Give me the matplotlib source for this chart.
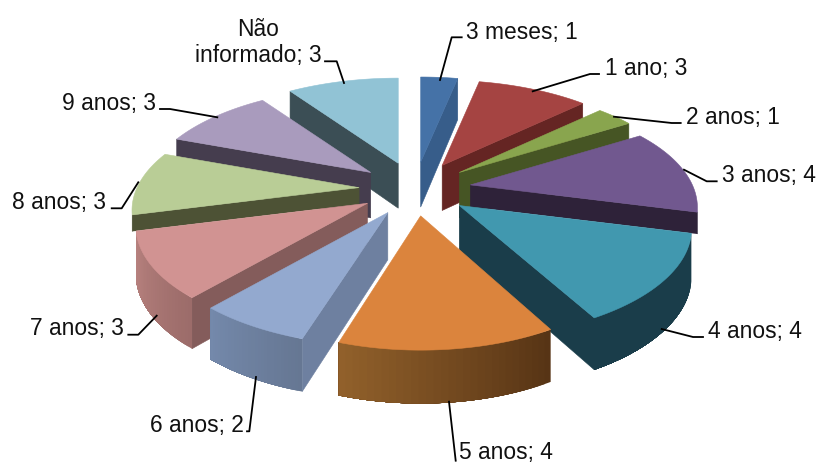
#!/usr/bin/env python3
# plot.py
# Exploded 3D pie of respondents per time band, built from polygons on a pixel-sized axes.

import numpy as np
import matplotlib
matplotlib.use("Agg")
import matplotlib.pyplot as plt
from matplotlib.colors import to_rgb
from matplotlib.patches import Polygon

categories = ["3 meses", "1 ano", "2 anos", "3 anos", "4 anos", "5 anos",
              "6 anos", "7 anos", "8 anos", "9 anos", "Não\ninformado"]
counts = [1, 3, 1, 4, 4, 4, 2, 3, 3, 3, 3]

top_colors = ["#4572a7", "#a54442", "#89a54e", "#71588f", "#4198af", "#db843d",
              "#93a9cf", "#d19392", "#b9cd96", "#a99bbd", "#91c3d5"]
side_colors = ["#375d8a", "#652523", "#465524", "#2e2239", "#1a3d4a", "#573415",
               "#6e80a0", "#845c5b", "#4d5235", "#453d4e", "#3b4e55"]
# outer wall shading, from the start of each slice to its end
rim_start = ["#375d8a", "#652523", "#465524", "#2e2239", "#1a3d4a", "#573415",
             "#667793", "#9c6c6a", "#4d5235", "#453d4e", "#3b4e55"]
rim_end = ["#375d8a", "#652523", "#465524", "#2e2239", "#1a3d4a", "#92612b",
           "#7489ab", "#b98380", "#4d5235", "#453d4e", "#3b4e55"]

# horizontal stretch of each slice
stretch_x = [1.0, 1.0, 1.0, 1.0, 1.023, 0.985, 1.03, 1.02, 1.0, 1.0, 1.0]

# label anchor (x, baseline y) and horizontal alignment
label_pos = [(466, 38.5, "left"), (605, 75, "left"), (686.5, 124, "left"),
             (721.5, 182, "left"), (707.5, 338, "left"), (459, 459.5, "left"),
             (150, 432, "left"), (30.5, 335.5, "left"), (12.5, 209, "left"),
             (62.5, 110, "left"), (258.5, 62, "center")]
leaders = [[(440, 81), (451.7, 38.3), (461.7, 38.3)],
           [(532.7, 92.3), (590, 75), (599, 75)],
           [(614, 117.7), (671.7, 124), (680.7, 124)],
           [(684, 170.7), (706.7, 182.3), (716.7, 182.3)],
           [(661.7, 330), (693, 338), (703, 338)],
           [(449, 402.7), (455.7, 461.7)],
           [(256, 378), (249.3, 432.3), (247, 432.3)],
           [(156.7, 316.7), (138.3, 335.7), (128.3, 335.7)],
           [(138.3, 183.3), (121.7, 209.3), (111.7, 209.3)],
           [(217.3, 118.3), (170, 110), (160, 110)],
           [(344, 84), (336.7, 62.3), (325, 62.3)]]

# walls of these slices stop at the top face of the slice in front of them:
# slice index -> (front slice index, which edge of the front slice)
wall_stops = {3: (4, 0), 8: (7, -1)}

center = np.array([415.0, 190.0])
explode = np.array([56.0, 27.0])
radius_x, radius_y = 222.0, 103.0
perspective = 0.21
front_growth = 0.03

edges = np.cumsum([0] + counts) / sum(counts) * 2 * np.pi
mids = (edges[:-1] + edges[1:]) / 2


def slice_outline(i):
    # apex and outer arc of a slice's top face; slices pulled towards the
    # viewer come out a little bigger, the back of the pie is smaller
    apex = center + explode * np.array([np.sin(mids[i]), -np.cos(mids[i])])
    grow = 1.0 + front_growth * max(0.0, -np.cos(mids[i]))
    arc = []
    for a in np.linspace(edges[i], edges[i + 1], 61):
        scale = 1.0 / (1.0 + perspective * np.cos(a))
        arc.append(apex + np.array([radius_x * np.sin(a) * scale * stretch_x[i],
                                    -radius_y * np.cos(a) * scale * grow]))
    return apex, arc


def drop(point):
    # wall height grows slightly towards the front
    return point + np.array([0.0, 45.0 + 0.045 * (point[1] - 165.0)])


def cross(a, b):
    return a[0] * b[1] - a[1] * b[0]


def faces_front(p, q, inside):
    # a wall shows when the slice lies on the upper side of its top edge
    edge = q - p
    return cross(edge, np.array([0.0, 1.0])) * cross(edge, inside - p) < 0


def fill(ax, points, color, width=0.4, clip=None):
    pts = np.array(points)
    patches = ax.fill(pts[:, 0], pts[:, 1], facecolor=color, edgecolor=color,
                      linewidth=width)
    if clip is not None:
        patches[0].set_clip_path(clip)


fig = plt.figure(figsize=(8.18, 4.64), dpi=100)
ax = fig.add_axes([0, 0, 1, 1])
ax.set_xlim(0, 818)
ax.set_ylim(464, 0)
ax.axis("off")

# paint from the back of the pie to the front
for i in np.argsort(-np.cos(mids)):
    apex, arc = slice_outline(i)
    inside = arc[30] * 0.5 + apex * 0.5

    clip = None
    if i in wall_stops:
        front, which = wall_stops[i]
        front_apex, front_arc = slice_outline(front)
        along = front_arc[which] - front_apex
        clip = Polygon([front_apex - along, front_apex + 2 * along,
                        front_apex + 2 * along - [0, 600],
                        front_apex - along - [0, 600]],
                       transform=ax.transData)

    for end in (arc[0], arc[-1]):
        if faces_front(apex, end, inside):
            fill(ax, [apex, end, drop(end), drop(apex)], side_colors[i], clip=clip)

    # each wall strip runs on to the end of the visible arc, so the next one
    # paints over it and no seams show between strips
    visible = [j for j in range(len(arc) - 1) if faces_front(arc[j], arc[j + 1], inside)]
    c0, c1 = np.array(to_rgb(rim_start[i])), np.array(to_rgb(rim_end[i]))
    for j in visible[::2]:
        t = j / (len(arc) - 2)
        upper = arc[j:visible[-1] + 2]
        lower = [drop(p) for p in upper]
        fill(ax, upper + lower[::-1], c0 + (c1 - c0) * t, width=0, clip=clip)

    fill(ax, [apex] + arc, top_colors[i])

for path in leaders:
    xy = np.array(path)
    ax.plot(xy[:, 0], xy[:, 1], color="black", linewidth=1.3,
            solid_joinstyle="round")

for name, value, (x, y, align) in zip(categories, counts, label_pos):
    ax.text(x, y, f"{name}; {value}", ha=align, va="baseline", ma="center",
            family="Liberation Sans", fontsize=16.4, color="#111111",
            linespacing=1.15)

fig.savefig("out.png", dpi=100)
